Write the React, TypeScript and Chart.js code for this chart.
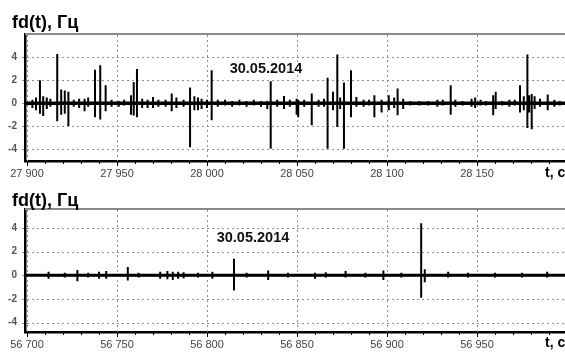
import { useEffect, useRef } from "react";
import { Chart, registerables } from "chart.js";

Chart.register(...registerables);

const TITLE = "fd(t), Гц";
const DATE_LABEL = "30.05.2014";
const X_AXIS_LABEL = "t, с";

const Y_TICKS = [-4, -2, 0, 2, 4];

const TOP_X_TICKS = [27900, 27950, 28000, 28050, 28100, 28150];
const BOTTOM_X_TICKS = [56700, 56750, 56800, 56850, 56900, 56950];

// Top panel: spike times (s), upper and lower excursions (Hz)
const TOP_T = [
  27903, 27905, 27907.2, 27909, 27911, 27913, 27916.8, 27919, 27921, 27923,
  27926, 27929, 27932, 27934, 27937.8, 27940.7, 27943.7, 27947, 27951, 27954,
  27957.8, 27959.3, 27961.1, 27964, 27967, 27970, 27973, 27977, 27980.4, 27983,
  27987, 27990.6, 27993, 27995, 27997, 28000, 28002.6, 28006, 28010, 28014,
  28018, 28022, 28026, 28030, 28033.5, 28035.4, 28039, 28042.8, 28046, 28049.8,
  28050.7, 28054, 28058.2, 28062, 28065, 28067, 28070, 28072.4, 28074, 28076.1,
  28080, 28083, 28087, 28090, 28093, 28097, 28101, 28104, 28105.9, 28109,
  28113, 28118, 28123, 28128, 28131, 28135.4, 28138, 28142, 28147, 28149,
  28152, 28155, 28159, 28160.4, 28164, 28168, 28171, 28173.9, 28176, 28178,
  28179, 28180.4, 28182, 28185, 28189.3, 28193, 28196,
];
const TOP_UP = [
  0.3, 0.5, 2.0, 0.6, 0.5, 0.4, 4.26, 1.2, 1.1, 1.0,
  0.3, 0.4, 0.4, 0.5, 2.9, 3.3, 1.56, 0.3, 0.2, 0.3,
  0.7, 1.85, 2.96, 0.4, 0.3, 0.55, 0.3, 0.3, 0.84, 0.5,
  0.3, 1.36, 0.6, 0.5, 0.4, 0.3, 2.87, 0.3, 0.3, 0.2,
  0.3, 0.2, 0.3, 0.2, 0.2, 1.9, 0.3, 0.64, 0.3, 0.4,
  0.3, 0.3, 0.84, 0.3, 0.4, 2.2, 1.0, 4.23, 0.5, 1.8,
  2.87, 0.55, 0.3, 0.3, 0.7, 0.3, 0.7, 0.5, 1.27, 0.4,
  0.2, 0.2, 0.2, 0.3, 0.3, 1.56, 0.3, 0.2, 0.4, 0.5,
  0.3, 0.2, 0.7, 1.0, 0.2, 0.3, 0.3, 1.56, 0.6, 4.23,
  0.7, 0.8, 0.6, 0.4, 0.75, 0.3, 0.2,
];
const TOP_DOWN = [
  -0.4, -0.6, -0.9, -1.1, -0.5, -0.3, -1.56, -1.0, -0.9, -1.97,
  -0.3, -0.4, -0.7, -0.3, -1.2, -1.4, -0.7, -0.3, -0.3, -0.2,
  -1.0, -1.05, -1.2, -0.4, -0.4, -0.4, -0.3, -0.3, -0.7, -0.4,
  -0.3, -3.8, -0.6, -0.6, -0.5, -0.4, -1.48, -0.3, -0.2, -0.3,
  -0.2, -0.3, -0.2, -0.3, -0.5, -3.94, -0.3, -0.5, -0.3, -1.0,
  -1.2, -0.3, -1.9, -0.3, -0.3, -3.94, -0.6, -2.06, -0.5, -3.94,
  -1.2, -0.3, -0.3, -0.2, -1.2, -0.8, -0.6, -0.4, -1.04, -0.5,
  -0.2, -0.2, -0.2, -0.3, -0.2, -1.0, -0.3, -0.2, -0.3, -0.4,
  -0.2, -0.2, -1.04, -0.5, -0.2, -0.3, -0.2, -0.8, -0.6, -2.14,
  -0.8, -2.26, -0.5, -0.3, -0.6, -0.3, -0.2,
];

// Bottom panel
const BOTTOM_T = [
  56712, 56721, 56728, 56734, 56740, 56744, 56756, 56762, 56774, 56778,
  56781, 56784, 56787, 56795, 56803, 56815, 56822, 56834, 56845, 56860,
  56866, 56877, 56888, 56898, 56908, 56919, 56921, 56934, 56945, 56960,
  56975, 56989,
];
const BOTTOM_UP = [
  0.3, 0.2, 0.45, 0.2, 0.3, 0.35, 0.7, 0.2, 0.3, 0.35,
  0.3, 0.3, 0.25, 0.2, 0.3, 1.4, 0.2, 0.4, 0.2, 0.2,
  0.25, 0.35, 0.2, 0.4, 0.2, 4.4, 0.5, 0.3, 0.2, 0.2,
  0.2, 0.3,
];
const BOTTOM_DOWN = [
  -0.3, -0.2, -0.5, -0.2, -0.3, -0.3, -0.45, -0.2, -0.3, -0.35,
  -0.4, -0.3, -0.25, -0.2, -0.3, -1.3, -0.2, -0.4, -0.2, -0.3,
  -0.2, -0.2, -0.2, -0.4, -0.2, -1.9, -0.6, -0.2, -0.2, -0.2,
  -0.2, -0.2,
];

const FONT = "Arial, 'Liberation Sans', sans-serif";

function buildSeries(t: number[], up: number[], down: number[]) {
  const pts: { x: number; y: number }[] = [];
  for (let i = 0; i < t.length; i++) {
    pts.push({ x: t[i], y: 0 }, { x: t[i], y: up[i] }, { x: t[i], y: down[i] }, { x: t[i], y: 0 });
  }
  return pts;
}

function fmtThousands(v: number) {
  return String(v).replace(/\B(?=(\d{3})+(?!\d))/g, " ");
}

type PanelProps = {
  top: number;
  height: number;
  plotTop: number;
  plotBottom: number;
  xMin: number;
  xMax: number;
  yMin: number;
  yMax: number;
  xTicks: number[];
  t: number[];
  up: number[];
  down: number[];
  titleBaseline: number;
  dateX: number;
  dateBaseline: number;
  axisLabelBaseline: number;
  baseWidth: number;
};

function Panel(p: PanelProps) {
  const ref = useRef<HTMLCanvasElement | null>(null);
  useEffect(() => {
    if (!ref.current) return;
    const deco = {
      id: "deco",
      beforeDatasetsDraw(chart: any) {
        const ctx = chart.ctx;
        const a = chart.chartArea;
        const xs = chart.scales.x;
        const ys = chart.scales.y;
        ctx.save();
        ctx.fillStyle = "#8f8f8f";
        for (const v of p.xTicks) {
          const x = Math.round(xs.getPixelForValue(v));
          for (let y = Math.ceil(a.top) + 1; y < a.bottom; y += 5) {
            ctx.fillRect(x, y, 1, 2);
          }
        }
        for (const v of Y_TICKS) {
          const y = Math.round(ys.getPixelForValue(v));
          for (let x = Math.floor(a.left) - 3; x < a.right; x += 5) {
            ctx.fillRect(x, y, 2, 1);
          }
        }
        ctx.restore();
      },
      afterDraw(chart: any) {
        const ctx = chart.ctx;
        const a = chart.chartArea;
        const xs = chart.scales.x;
        ctx.save();
        // top frame line
        ctx.fillStyle = "#8a8a8a";
        ctx.fillRect(a.left, Math.round(a.top) - 1, a.right - a.left, 2);
        // minor and major ticks
        ctx.fillStyle = "#000";
        const start = Math.ceil(p.xMin / 10) * 10;
        for (let v = start; v <= p.xMax; v += 10) {
          const x = Math.round(xs.getPixelForValue(v));
          ctx.fillRect(x, Math.round(a.bottom), 1, v % 50 === 0 ? 5 : 3);
        }
        // title
        ctx.fillStyle = "#000";
        ctx.font = `bold 18px ${FONT}`;
        ctx.textAlign = "left";
        ctx.textBaseline = "alphabetic";
        ctx.fillText(TITLE, 12, p.titleBaseline);
        // date
        ctx.font = `bold 14.5px ${FONT}`;
        ctx.fillStyle = "#111";
        ctx.textAlign = "center";
        ctx.fillText(DATE_LABEL, p.dateX, p.dateBaseline);
        // axis label
        ctx.font = `bold 14px ${FONT}`;
        ctx.textAlign = "left";
        ctx.fillStyle = "#000";
        ctx.fillText(X_AXIS_LABEL, 545, p.axisLabelBaseline);
        ctx.restore();
      },
    };
    const chart = new Chart(ref.current, {
      type: "line",
      data: {
        datasets: [
          {
            data: [
              { x: p.xMin, y: 0 },
              { x: p.xMax, y: 0 },
            ],
            borderColor: "#000",
            borderWidth: p.baseWidth,
            pointRadius: 0,
          },
          {
            data: buildSeries(p.t, p.up, p.down),
            borderColor: "#000",
            borderWidth: 2,
            pointRadius: 0,
          },
        ],
      },
      options: {
        animation: false,
        responsive: false,
        maintainAspectRatio: false,
        layout: { padding: { top: p.plotTop, left: 0, right: 0, bottom: 0 } },
        plugins: { legend: { display: false }, tooltip: { enabled: false }, title: { display: false } },
        scales: {
          x: {
            type: "linear",
            min: p.xMin,
            max: p.xMax,
            afterBuildTicks: (s: any) => {
              s.ticks = p.xTicks.map((v) => ({ value: v }));
            },
            afterFit: (s: any) => {
              s.height = p.height - p.plotBottom;
            },
            ticks: {
              callback: (v: any) => fmtThousands(Number(v)),
              font: { family: FONT, size: 11 },
              color: "#444",
              maxRotation: 0,
              autoSkip: false,
              padding: 2,
            },
            grid: { display: false, drawTicks: true, tickLength: 4 },
            border: { display: true, color: "#000", width: 2.5 },
          },
          y: {
            type: "linear",
            min: p.yMin,
            max: p.yMax,
            afterBuildTicks: (s: any) => {
              s.ticks = Y_TICKS.map((v) => ({ value: v }));
            },
            afterFit: (s: any) => {
              s.width = 25;
            },
            ticks: {
              font: { family: FONT, size: 10, weight: "bold" },
              color: "#555",
              padding: 5,
            },
            grid: { display: false, drawTicks: true, tickLength: 3 },
            border: { display: true, color: "#000", width: 2.5 },
          },
        },
      },
      plugins: [deco],
    } as any);
    return () => chart.destroy();
  }, []);
  return (
    <canvas
      ref={ref}
      width={565}
      height={p.height}
      style={{ position: "absolute", left: 0, top: p.top, width: 565, height: p.height, display: "block" }}
    />
  );
}

export default function App() {
  return (
    <div style={{ position: "fixed", left: 0, top: 0, width: 565, height: 352, background: "#fff", overflow: "hidden" }}>
      <Panel
        top={0}
        height={184}
        plotTop={34}
        plotBottom={161}
        xMin={27898.9}
        xMax={28198.9}
        yMin={-5}
        yMax={6}
        xTicks={TOP_X_TICKS}
        t={TOP_T}
        up={TOP_UP}
        down={TOP_DOWN}
        titleBaseline={28}
        dateX={266}
        dateBaseline={73}
        axisLabelBaseline={177}
        baseWidth={3.5}
      />
      <Panel
        top={184}
        height={168}
        plotTop={25}
        plotBottom={148}
        xMin={56698.9}
        xMax={56998.9}
        yMin={-4.8}
        yMax={5.6}
        xTicks={BOTTOM_X_TICKS}
        t={BOTTOM_T}
        up={BOTTOM_UP}
        down={BOTTOM_DOWN}
        titleBaseline={22}
        dateX={253}
        dateBaseline={58}
        axisLabelBaseline={163}
        baseWidth={3}
      />
    </div>
  );
}
